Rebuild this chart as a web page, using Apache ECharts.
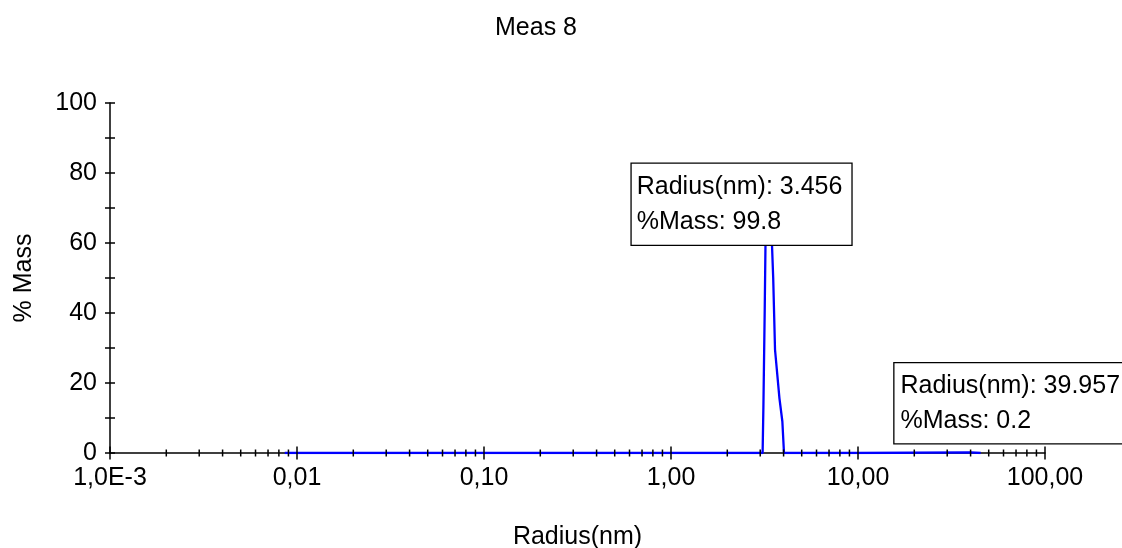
<!DOCTYPE html>
<html>
<head>
<meta charset="utf-8">
<script src="https://cdn.jsdelivr.net/npm/echarts@6/dist/echarts.min.js"></script>
<style>
html,body{margin:0;padding:0;background:#fff;}
#chart{width:1122px;height:548px;}
</style>
</head>
<body>
<div id="chart"></div>
<script>
// ---- data ----
const radius = [0.0086, 0.01, 0.1, 1, 3.09, 3.12, 3.17, 3.20, 3.40, 3.52, 3.60, 3.80, 3.94, 4.02, 10, 39.957, 45.3];
const mass   = [0,      0,    0,   0, 0,    13.3, 40.5, 59,   72,   50,   29.5, 15.7, 9,    0,    0,  0.2,    0];

const peakLabels = [
  { radius: 3.456,  mass: 99.8 },
  { radius: 39.957, mass: 0.2 }
];

const xTickValues = [0.001, 0.01, 0.1, 1, 10, 100];
const xTickLabels = ['1,0E-3', '0,01', '0,10', '1,00', '10,00', '100,00'];
const xMinorMultipliers = [2, 3, 4, 5, 6, 7, 8, 9];

const titleText = 'Meas 8';
const xName = 'Radius(nm)';
const yName = '% Mass';

// ---- build ----
const FONT = '"Liberation Sans", Arial, sans-serif';
const FS = 25;

const lineData = radius.map((r, i) => [r, mass[i]]);

const tickData = [];
xTickValues.forEach(v => tickData.push([v, 0, 1]));
for (let d = 0; d < xTickValues.length - 1; d++) {
  xMinorMultipliers.forEach(m => tickData.push([xTickValues[d] * m, 0, 0]));
}

function xLabel(v) {
  for (let i = 0; i < xTickValues.length; i++) {
    if (Math.abs(Math.log10(v) - Math.log10(xTickValues[i])) < 1e-6) return xTickLabels[i];
  }
  return '';
}

const chart = echarts.init(document.getElementById('chart'), null, { renderer: 'canvas' });

const boxLabel = {
  show: true,
  align: 'left',
  verticalAlign: 'top',
  fontFamily: FONT,
  fontSize: FS,
  lineHeight: 35,
  color: '#000',
  backgroundColor: '#fff',
  borderColor: '#000',
  borderWidth: 1.3,
  padding: [6, 9, 5, 5],
  formatter: p => 'Radius(nm): ' + p.data.coord[0].toFixed(3) + '\n%Mass: ' + p.data.coord[1].toFixed(1)
};

chart.setOption({
  animation: false,
  backgroundColor: '#fff',
  title: {
    text: titleText,
    left: 490,
    top: 11,
    textStyle: { fontFamily: FONT, fontSize: FS, fontWeight: 'normal', color: '#000' }
  },
  grid: { left: 110, right: 77, top: 103, bottom: 95, containLabel: false, outerBoundsMode: 'none' },
  xAxis: {
    type: 'log',
    logBase: 10,
    min: 0.001,
    max: 100,
    splitNumber: 5,
    name: xName,
    nameLocation: 'middle',
    nameGap: 72,
    nameTextStyle: { fontFamily: FONT, fontSize: FS, color: '#000' },
    axisLine: { lineStyle: { color: '#000', width: 1.5 } },
    axisTick: { show: false },
    splitLine: { show: false },
    axisLabel: {
      fontFamily: FONT, fontSize: FS, color: '#000', margin: 13,
      formatter: v => xLabel(v)
    }
  },
  yAxis: [{
    type: 'value',
    min: 0, max: 100, interval: 20,
    name: yName,
    nameLocation: 'middle',
    nameGap: 73,
    nameTextStyle: { fontFamily: FONT, fontSize: FS, color: '#000' },
    axisLine: { show: true, lineStyle: { color: '#000', width: 1.5 } },
    axisTick: { show: true, length: 5, lineStyle: { color: '#000', width: 1.5 } },
    minorTick: { show: true, splitNumber: 2, length: 5, lineStyle: { color: '#000', width: 1.5 } },
    splitLine: { show: false },
    axisLabel: { fontFamily: FONT, fontSize: FS, color: '#000', margin: 13 }
  }, {
    type: 'value',
    position: 'left',
    offset: 0,
    min: 0, max: 100, interval: 20,
    axisLine: { show: false },
    axisTick: { show: true, inside: true, length: 5, lineStyle: { color: '#000', width: 1.5 } },
    minorTick: { show: true, splitNumber: 2, length: 5, lineStyle: { color: '#000', width: 1.5 } },
    splitLine: { show: false },
    axisLabel: { show: false }
  }],
  series: [{
    type: 'line',
    data: lineData,
    showSymbol: false,
    symbol: 'none',
    z: 2,
    lineStyle: { color: '#0000ff', width: 2.3 },
    itemStyle: { color: '#0000ff' },
    markPoint: {
      symbol: 'rect',
      symbolSize: 0,
      z: 10,
      data: [
        { coord: [peakLabels[0].radius, peakLabels[0].mass], label: Object.assign({}, boxLabel, { position: [-140, 60] }) },
        { coord: [peakLabels[1].radius, peakLabels[1].mass], label: Object.assign({}, boxLabel, { position: [-76, -89], padding: [5, 30, 5, 6] }) }
      ]
    }
  }, {
    type: 'custom',
    data: tickData,
    z: 3,
    clip: false,
    silent: true,
    renderItem: function (params, api) {
      const p = api.coord([api.value(0), api.value(1)]);
      const len = api.value(2) ? 6.5 : 3.5;
      return {
        type: 'line',
        shape: { x1: p[0], y1: p[1] - len, x2: p[0], y2: p[1] + len },
        style: { stroke: '#000', lineWidth: 1.5 }
      };
    }
  }]
});
</script>
</body>
</html>
